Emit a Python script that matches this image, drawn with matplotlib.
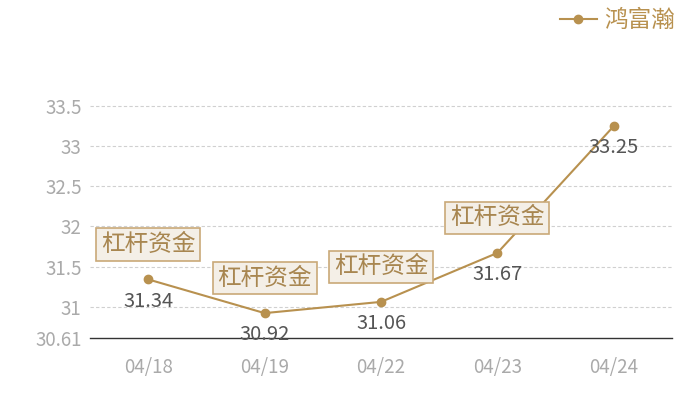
import matplotlib
matplotlib.use('Agg')
import matplotlib.pyplot as plt

plt.rcParams['font.family'] = ['Noto Sans CJK SC', 'DejaVu Sans']

dates = ['04/18', '04/19', '04/22', '04/23', '04/24']
prices = [31.34, 30.92, 31.06, 31.67, 33.25]
marks = ['杠杆资金', '杠杆资金', '杠杆资金', '杠杆资金', None]
yticks = [30.61, 31, 31.5, 32, 32.5, 33, 33.5]
ytick_labels = ['30.61', '31', '31.5', '32', '32.5', '33', '33.5']

gold = '#b8914f'

fig = plt.figure(figsize=(7, 4), dpi=100)
ax = fig.add_axes([0.1286, 0.155, 0.8314, 0.59])

x = list(range(len(dates)))
ax.plot(x, prices, color=gold, lw=1.5, marker='o', ms=6, label='鸿富瀚', zorder=3)

for i, v in enumerate(prices):
    ax.annotate(f'{v:.2f}', (i, v), xytext=(0, -8), textcoords='offset points',
                ha='center', va='top', fontsize=14.5, color='#555555')
    if marks[i]:
        ax.annotate(marks[i], (i, v), xytext=(0, 17), textcoords='offset points',
                    ha='center', va='bottom', fontsize=17, color='#a88650', zorder=5,
                    bbox=dict(boxstyle='square,pad=0.2', fc='#f4efe7', ec='#c9a978', lw=1.2))

ax.set_xlim(-0.5, len(dates) - 0.5)
ax.set_ylim(30.61, 33.55)
ax.set_xticks(x)
ax.set_xticklabels(dates)
ax.set_yticks(yticks)
ax.set_yticklabels(ytick_labels)
ax.tick_params(axis='x', length=0, pad=14, labelsize=13.5, labelcolor='#aaaaaa')
ax.tick_params(axis='y', length=0, pad=6, labelsize=13.5, labelcolor='#aaaaaa')

for t in yticks[1:]:
    ax.axhline(t, color='#d0d0d0', lw=0.8, ls=(0, (3, 2)), zorder=1)

for s in ['top', 'right', 'left']:
    ax.spines[s].set_visible(False)
ax.spines['bottom'].set_color('#333333')
ax.spines['bottom'].set_linewidth(1)

leg = fig.legend(loc='upper right', bbox_to_anchor=(0.995, 1.03), frameon=False,
                 fontsize=17, handlelength=1.6, handletextpad=0.3)
for t in leg.get_texts():
    t.set_color(gold)

fig.savefig('out.png', dpi=100)
